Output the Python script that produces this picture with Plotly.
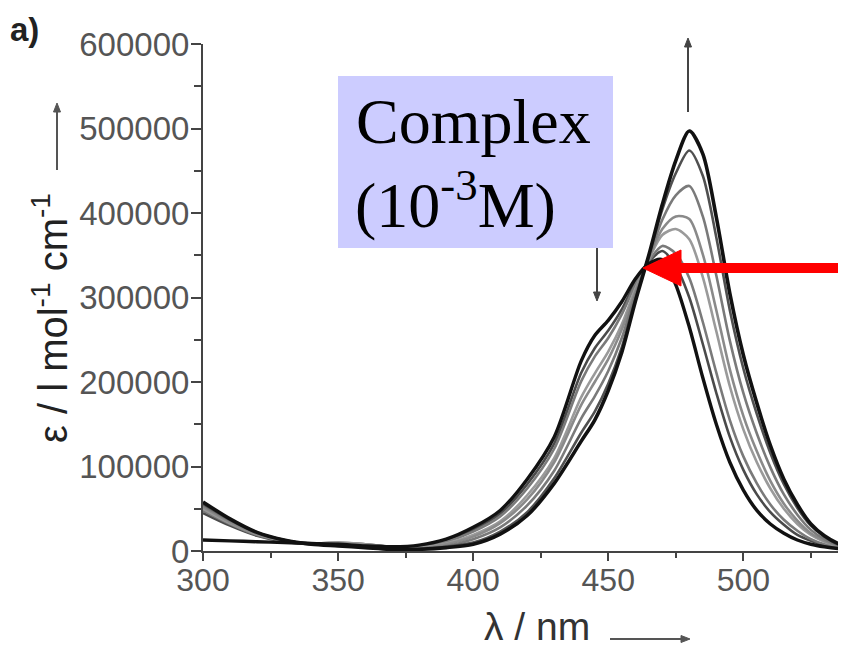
import plotly.graph_objects as go

# wavelength grid (nm)
wavelength = [300, 310, 320, 330, 340, 350, 360, 370, 380, 390,
              400, 410, 420, 430, 440, 445, 450, 455, 460, 465, 470, 475, 480,
              485, 490, 495, 500, 505, 510, 515, 520, 525, 530, 535, 540]

# molar absorption coefficient, l mol-1 cm-1 (first spectrum -> last spectrum)
eps_start = [13000, 12000, 11000, 10000, 9000, 8000, 6000, 5000, 7000, 14000,
             28000, 48000, 85000, 135000, 225000, 255000, 273000, 295000, 322000, 340000, 345000, 315000, 265000,
             205000, 150000, 105000, 72000, 48000, 32000, 21000, 13000, 8000, 5000, 3000, 2000]
eps_step1 = [45000, 30000, 18000, 11000, 8000, 9000, 8000, 5000, 5000, 12000,
             25000, 44000, 79000, 127000, 211000, 240000, 261000, 286000, 318000, 342000, 355000, 337000, 300000,
             245000, 187000, 135000, 96000, 67000, 46000, 31000, 19000, 12000, 7000, 4000, 2000]
eps_step2 = [48000, 32000, 19000, 12000, 9000, 10000, 8000, 5000, 5000, 11000,
             23000, 41000, 74000, 121000, 201000, 230000, 252000, 280000, 315000, 343000, 361000, 352000, 323000,
             271000, 211000, 155000, 112000, 80000, 55000, 37000, 24000, 14000, 8000, 5000, 3000]
eps_step3 = [50000, 33000, 20000, 12000, 9000, 10000, 8000, 4000, 4000, 9000,
             19000, 35000, 66000, 110000, 182000, 210000, 236000, 268000, 310000, 345000, 374000, 381000, 369000,
             324000, 260000, 195000, 144000, 105000, 74000, 50000, 32000, 19000, 11000, 6000, 3000]
eps_step4 = [52000, 34000, 20000, 12000, 8000, 9000, 7000, 4000, 3000, 8000,
             17000, 33000, 61000, 105000, 173000, 200000, 227000, 262000, 307000, 346000, 381000, 396000, 393000,
             351000, 285000, 215000, 160000, 118000, 83000, 56000, 36000, 21000, 12000, 6000, 3000]
eps_step5 = [54000, 36000, 21000, 13000, 8000, 8000, 6000, 3000, 3000, 6000,
             14000, 28000, 54000, 95000, 157000, 183000, 213000, 252000, 303000, 347000, 392000, 421000, 432000,
             396000, 326000, 249000, 187000, 139000, 99000, 67000, 43000, 25000, 14000, 7000, 3000]
eps_step6 = [56000, 37000, 22000, 13000, 8000, 7000, 5000, 3000, 2000, 5000,
             10000, 23000, 46000, 86000, 140000, 165000, 198000, 241000, 298000, 349000, 404000, 447000, 474000,
             444000, 371000, 285000, 216000, 162000, 116000, 79000, 51000, 30000, 17000, 8000, 4000]
eps_end = [58000, 38000, 22000, 13000, 8000, 6000, 4000, 2000, 2000, 4000,
           8000, 20000, 42000, 80000, 130000, 155000, 190000, 235000, 295000, 350000, 410000, 462000, 497000,
           470000, 395000, 305000, 232000, 175000, 125000, 85000, 55000, 32000, 18000, 9000, 4000]

y_ticks = [0, 100000, 200000, 300000, 400000, 500000, 600000]
y_tick_labels = ["0", "100000", "200000", "300000", "400000", "500000", "600000"]
x_ticks = [300, 350, 400, 450, 500]
x_tick_labels = ["300", "350", "400", "450", "500"]

fig = go.Figure()

intermediates = [(eps_step1, "#4a4a4a"), (eps_step2, "#7a7a7a"), (eps_step3, "#9a9a9a"),
                 (eps_step4, "#8a8a8a"), (eps_step5, "#7a7a7a"), (eps_step6, "#505050")]
for ys, col in intermediates:
    fig.add_trace(go.Scatter(x=wavelength, y=ys, mode="lines",
                             line=dict(color=col, width=2.6, shape="spline", smoothing=0.8),
                             showlegend=False, hoverinfo="skip"))
fig.add_trace(go.Scatter(x=wavelength, y=eps_start, mode="lines",
                         line=dict(color="#111111", width=3.4, shape="spline", smoothing=0.8),
                         showlegend=False, hoverinfo="skip"))
fig.add_trace(go.Scatter(x=wavelength, y=eps_end, mode="lines",
                         line=dict(color="#111111", width=3.6, shape="spline", smoothing=0.8),
                         showlegend=False, hoverinfo="skip"))

# page body has an 8px margin: the figure starts at (8, 8) of the window
OFF = 8
W, H = 846 - OFF, 649 - OFF
L, R, T, B = 195, 0, 36, 98
PW, PH = W - L - R, H - T - B


def px(x):  # window pixel x -> paper x
    return (x - OFF - L) / PW


def py(y):  # window pixel y -> paper y
    return (OFF + T + PH - y) / PH


axis_font_y = dict(family="Liberation Sans, Arial, sans-serif", size=33, color="#555555")
axis_font_x = dict(family="Liberation Sans, Arial, sans-serif", size=32, color="#555555")

fig.update_layout(
    width=W, height=H,
    margin=dict(l=L, r=R, t=T, b=B, pad=0),
    paper_bgcolor="white", plot_bgcolor="white",
    xaxis=dict(range=[300, 538], showgrid=False, zeroline=False,
               showline=True, linecolor="#444444", linewidth=2,
               ticks="outside", ticklen=8, tickwidth=2, tickcolor="#444444",
               tickvals=x_ticks, ticktext=x_tick_labels, tickfont=axis_font_x,
               ticklabelstandoff=-8,
               minor=dict(dtick=25, tick0=300, ticks="outside", ticklen=5, tickwidth=2, tickcolor="#444444")),
    yaxis=dict(range=[0, 600000], showgrid=False, zeroline=False,
               showline=True, linecolor="#444444", linewidth=2,
               ticks="outside", ticklen=10, tickwidth=2, tickcolor="#444444",
               tickvals=y_ticks, ticktext=y_tick_labels, tickfont=axis_font_y,
               ticklabelstandoff=-5,
               minor=dict(dtick=50000, tick0=0, ticks="outside", ticklen=7, tickwidth=2, tickcolor="#444444")),
)

shapes = []


def arrow(x0, y0, x1, y1, color, width, head_len, head_half):
    """arrow from (x0,y0) tail to (x1,y1) head, window pixels; axis-aligned"""
    dx = 0 if x1 == x0 else (1 if x1 > x0 else -1)
    dy = 0 if y1 == y0 else (1 if y1 > y0 else -1)
    bx, by = x1 - dx * head_len, y1 - dy * head_len
    shapes.append(dict(type="line", xref="paper", yref="paper",
                       x0=px(x0), y0=py(y0), x1=px(bx + dx * 1), y1=py(by + dy * 1),
                       line=dict(color=color, width=width), layer="above"))
    if dx != 0:
        p1 = (bx, by - head_half)
        p2 = (bx, by + head_half)
    else:
        p1 = (bx - head_half, by)
        p2 = (bx + head_half, by)
    shapes.append(dict(type="path", xref="paper", yref="paper",
                       path=f"M {px(x1)},{py(y1)} L {px(p1[0])},{py(p1[1])} L {px(p2[0])},{py(p2[1])} Z",
                       fillcolor=color, line=dict(color=color, width=1), layer="above"))


# lavender label box
shapes.append(dict(type="rect", xref="paper", yref="paper",
                   x0=px(338), x1=px(613), y0=py(248), y1=py(76),
                   fillcolor="#ccccff", line=dict(width=0), layer="above"))
# red arrow pointing at the isosbestic point
arrow(846, 268, 643, 268, "#ff0000", 10, 38, 18)
# trend arrows
arrow(688, 112, 688, 38, "#444444", 2, 9, 3.5)
arrow(597, 248, 597, 301, "#444444", 2, 9, 3.5)
# axis-title arrows
arrow(57, 170, 57, 103, "#555555", 2, 9, 3.5)
arrow(610, 639, 690, 639, "#555555", 2, 9, 3.5)
fig.update_layout(shapes=shapes)

ann = []
ann.append(dict(xref="paper", yref="paper", x=px(354), y=py(121), xanchor="left", yanchor="middle",
                text="Complex", showarrow=False, align="left",
                font=dict(family="Liberation Serif, Times New Roman, serif", size=64, color="black")))
ann.append(dict(xref="paper", yref="paper", x=px(353), y=py(200), xanchor="left", yanchor="middle",
                text="(10<sup>-3</sup>M)", showarrow=False, align="left",
                font=dict(family="Liberation Serif, Times New Roman, serif", size=64, color="black")))
# panel label
ann.append(dict(xref="paper", yref="paper", x=px(8), y=py(29), xanchor="left", yanchor="middle",
                text="<b>a)</b>", showarrow=False,
                font=dict(family="Liberation Sans, Arial, sans-serif", size=33, color="#222222")))
# axis titles
ann.append(dict(xref="paper", yref="paper", x=px(50), y=py(318), xanchor="center", yanchor="middle",
                text="ε / l mol<sup>-1</sup> cm<sup>-1</sup>", textangle=-90, showarrow=False,
                font=dict(family="Liberation Sans, Arial, sans-serif", size=40, color="#222222")))
ann.append(dict(xref="paper", yref="paper", x=px(537), y=py(627), xanchor="center", yanchor="middle",
                text="λ / nm", showarrow=False,
                font=dict(family="Liberation Sans, Arial, sans-serif", size=39, color="#333333")))
fig.update_layout(annotations=ann)

fig.write_html("out.html")
